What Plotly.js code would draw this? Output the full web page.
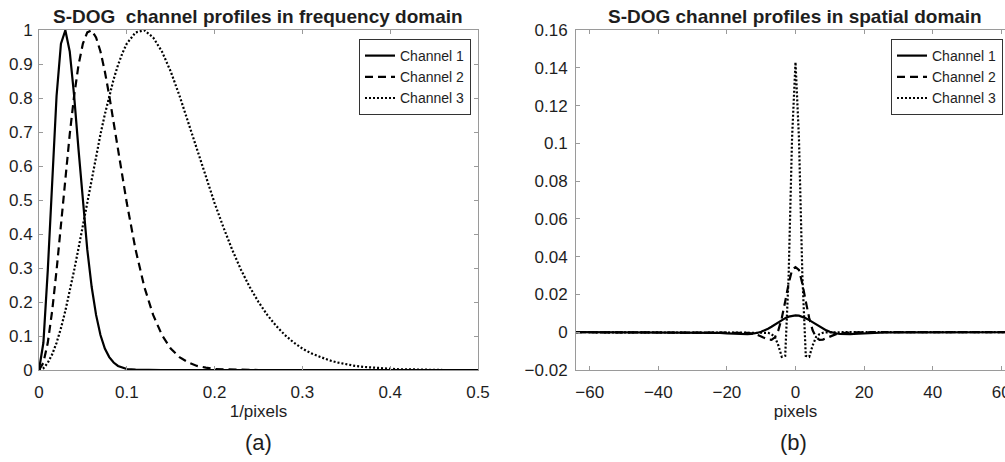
<!DOCTYPE html>
<html>
<head>
<meta charset="utf-8">
<script src="https://cdn.plot.ly/plotly-3.0.1.min.js"></script>
<style>
html, body { margin: 0; padding: 0; overflow: hidden; background: #fff; }
#chart { width: 1015px; height: 462px; }
</style>
</head>
<body>
<div id="chart"></div>
<script>
// ---- Panel (a): frequency domain ----
const freq = [0,0.005,0.01,0.015,0.02,0.025,0.03,0.035,0.04,0.045,0.05,0.055,0.06,0.065,0.07,0.075,0.08,0.085,0.09,0.095,0.1,
  0.11,0.12,0.13,0.14,0.15,0.16,0.17,0.18,0.19,0.2,0.21,0.22,0.23,0.24,0.25,0.26,0.27,0.28,0.29,0.3,
  0.31,0.32,0.33,0.34,0.35,0.36,0.37,0.38,0.39,0.4,0.41,0.42,0.43,0.44,0.45,0.46,0.47,0.48,0.49,0.5];
const ch1Freq = [0,0.080,0.293,0.563,0.806,0.960,0.999,0.937,0.807,0.649,0.491,0.354,0.244,0.162,0.103,0.063,0.038,0.022,0.012,0.007,0.003,
  0.001,0,0,0,0,0,0,0,0,0,0,0,0,0,0,0,0,0,0,0,
  0,0,0,0,0,0,0,0,0,0,0,0,0,0,0,0,0,0,0,0];
const ch2Freq = [0,0.021,0.080,0.174,0.293,0.426,0.563,0.693,0.806,0.897,0.960,0.993,0.999,0.978,0.937,0.878,0.807,0.729,0.649,0.568,0.491,
  0.354,0.244,0.162,0.103,0.063,0.038,0.022,0.012,0.007,0.003,0.002,0.001,0,0,0,0,0,0,0,0,
  0,0,0,0,0,0,0,0,0,0,0,0,0,0,0,0,0,0,0,0];
const ch3Freq = [0,0.005,0.021,0.046,0.080,0.123,0.174,0.231,0.293,0.358,0.426,0.495,0.563,0.629,0.693,0.752,0.806,0.855,0.897,0.932,0.960,
  0.993,0.999,0.978,0.937,0.878,0.807,0.729,0.649,0.568,0.491,0.420,0.354,0.295,0.244,0.200,0.162,0.130,0.103,0.081,0.063,
  0.049,0.038,0.029,0.022,0.016,0.012,0.009,0.007,0.005,0.003,0.002,0.002,0.001,0.001,0.001,0,0,0,0,0];

// ---- Panel (b): spatial domain ----
const pix = [-64,-40,-30,-26,-22,-20,-19,-18,-17,-16,-15,-14,-13,-12,-11,-10,-9,-8,-7,-6,-5,-4,-3,-2,-1,
  0,1,2,3,4,5,6,7,8,9,10,11,12,13,14,15,16,17,18,19,20,22,26,30,40,64];
const ch1Sp = [0,0,-0.00004,-0.00014,-0.00038,-0.00057,-0.00068,-0.00079,-0.0009,-0.00097,-0.00101,-0.001,-0.00089,-0.00066,-0.00029,0.00025,0.00097,0.00187,0.00292,0.00407,0.00526,0.00642,0.00744,0.00824,0.00876,
  0.00893,
  0.00876,0.00824,0.00744,0.00642,0.00526,0.00407,0.00292,0.00187,0.00097,0.00025,-0.00029,-0.00066,-0.00089,-0.001,-0.00101,-0.00097,-0.0009,-0.00079,-0.00068,-0.00057,-0.00038,-0.00014,-0.00004,0,0];
const ch2Sp = [0,0,0,0,0,0,0,0,-0.00005,-0.0001,-0.0002,-0.0003,-0.0006,-0.0009,-0.0015,-0.0023,-0.0031,-0.0039,-0.004,-0.0027,0.001,0.0075,0.0163,0.0257,0.033,
  0.0345,
  0.033,0.0257,0.0163,0.0075,0.001,-0.0027,-0.004,-0.0039,-0.0031,-0.0023,-0.0015,-0.0009,-0.0006,-0.0003,-0.0002,-0.0001,-0.00005,0,0,0,0,0,0,0,0];
const ch3Sp = [0,0,0,0,0,0,0,0,0,0,0,0,0,0,0,0,-0.0001,-0.0003,-0.001,-0.0025,-0.007,-0.013,-0.0125,0.030,0.103,
  0.143,
  0.103,0.030,-0.0125,-0.013,-0.007,-0.0025,-0.001,-0.0003,-0.0001,0,0,0,0,0,0,0,0,0,0,0,0,0,0,0,0];

const names = ['Channel 1','Channel 2','Channel 3'];
const dashes = ['solid','8px,5px','2px,2px'];

const FONT = 'Liberation Sans, Arial, Helvetica, sans-serif';
const INK = '#1e1e1e';
const AXC = '#9a9a9a';

const freqSeries = [ch1Freq, ch2Freq, ch3Freq];
const spSeries = [ch1Sp, ch2Sp, ch3Sp];
const traces = [];
freqSeries.forEach((ys, i) => traces.push({
  x: freq, y: ys, type: 'scatter', mode: 'lines', name: names[i],
  xaxis: 'x', yaxis: 'y', legend: 'legend',
  line: {color: '#000', width: 2.2, dash: dashes[i]}
}));
spSeries.forEach((ys, i) => traces.push({
  x: pix, y: ys, type: 'scatter', mode: 'lines', name: names[i],
  xaxis: 'x2', yaxis: 'y2', legend: 'legend2',
  line: {color: '#000', width: 2.2, dash: dashes[i]}
}));

const axisBase = {
  showgrid: false, zeroline: false, showline: true, linecolor: AXC, linewidth: 1,
  mirror: 'ticks', ticks: 'inside', ticklen: 4, tickcolor: AXC, tickwidth: 1,
  tickfont: {family: FONT, size: 17, color: INK}
};

const W = 1015, H = 462, ML = 39, MT = 30, MB = 92;
const PW = W - ML;
const px2x = p => (p - ML) / PW;
const py2y = p => 1 - (p - MT) / (H - MT - MB);

const layout = {
  width: W, height: H,
  margin: {l: ML, r: 0, t: MT, b: MB},
  paper_bgcolor: '#fff', plot_bgcolor: '#fff',
  showlegend: true,
  font: {family: FONT, color: INK},
  xaxis: Object.assign({}, axisBase, {
    domain: [0, px2x(478)], range: [0, 0.5], dtick: 0.1, tick0: 0, ticklabelstandoff: 7,
    title: {text: '1/pixels', font: {family: FONT, size: 17, color: INK}, standoff: 3}
  }),
  yaxis: Object.assign({}, axisBase, {
    range: [0, 1], dtick: 0.1, tick0: 0, ticklabelstandoff: 2
  }),
  xaxis2: Object.assign({}, axisBase, {
    anchor: 'y2', domain: [px2x(576), 1], range: [-64, 64], dtick: 20, tick0: 0, ticklabelstandoff: 7,
    title: {text: 'pixels', font: {family: FONT, size: 17, color: INK}, standoff: 3}
  }),
  yaxis2: Object.assign({}, axisBase, {
    anchor: 'x2', range: [-0.02, 0.16], dtick: 0.02, tick0: 0, ticklabelstandoff: 4
  }),
  legend: {
    x: px2x(471), xanchor: 'right', y: py2y(39), yanchor: 'top',
    bgcolor: '#fff', bordercolor: '#333', borderwidth: 1,
    font: {family: FONT, size: 14, color: INK}, tracegroupgap: 0
  },
  legend2: {
    x: px2x(1003), xanchor: 'right', y: py2y(39), yanchor: 'top',
    bgcolor: '#fff', bordercolor: '#333', borderwidth: 1,
    font: {family: FONT, size: 14, color: INK}, tracegroupgap: 0
  },
  annotations: [
    {xref: 'paper', yref: 'paper', x: px2x(258), y: py2y(17), xanchor: 'center', yanchor: 'middle', showarrow: false,
     text: '<b>S-DOG  channel profiles in frequency domain</b>', font: {family: FONT, size: 19, color: INK}},
    {xref: 'paper', yref: 'paper', x: px2x(795), y: py2y(17), xanchor: 'center', yanchor: 'middle', showarrow: false,
     text: '<b>S-DOG channel profiles in spatial domain</b>', font: {family: FONT, size: 19, color: INK}},
    {xref: 'paper', yref: 'paper', x: px2x(258), y: py2y(443), xanchor: 'center', yanchor: 'middle', showarrow: false,
     text: '(a)', font: {family: FONT, size: 22, color: INK}},
    {xref: 'paper', yref: 'paper', x: px2x(793), y: py2y(443), xanchor: 'center', yanchor: 'middle', showarrow: false,
     text: '(b)', font: {family: FONT, size: 22, color: INK}}
  ]
};

Plotly.newPlot('chart', traces, layout, {staticPlot: true, displayModeBar: false});
</script>
</body>
</html>
